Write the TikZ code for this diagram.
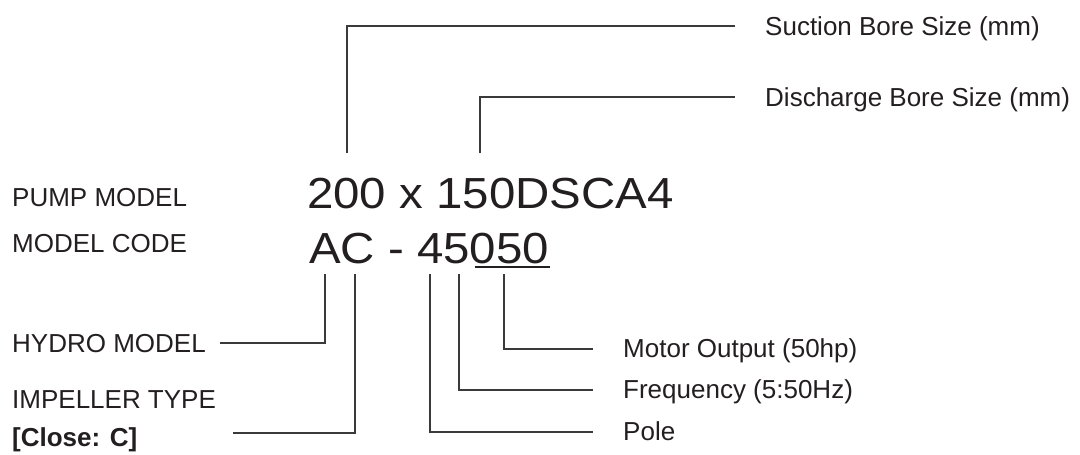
\documentclass[tikz,border=0pt]{standalone}
\usepackage{fontspec}
\setmainfont{Liberation Sans}
\newfontfamily\widefont[FakeStretch=1.09]{Liberation Sans}
\definecolor{ink}{HTML}{231F20}
\definecolor{leadc}{HTML}{3A3A3A}
\begin{document}
\begin{tikzpicture}[x=1pt,y=-1pt,
  lbl/.style={inner sep=0pt,anchor=base west,font=\fontsize{26}{30}\selectfont,text=ink},
  big/.style={inner sep=0pt,anchor=base west,font=\widefont\fontsize{43.5}{50}\selectfont,text=ink},
  lead/.style={draw=leadc,line width=1.2pt}]
\useasboundingbox[fill=white] (0,0) rectangle (1080,455);
% main codes
\node[big] (pm) at (307,208) {200 x 150DSCA4};
\node[big] (mc) at (309,263) {AC - 45050};
\coordinate (ulA) at (475,267);
\coordinate (ulB) at (550,267);
\draw[draw=ink,line width=2.2pt] (ulA) -- (ulB);
% left labels
\node[lbl] (pml) at (12,206) {PUMP MODEL};
\node[lbl] (mcl) at (12,252) {MODEL CODE};
\node[lbl] (hyd) at (12,352) {HYDRO MODEL};
\node[lbl] (imp) at (12,408) {IMPELLER TYPE};
\node[lbl,font=\fontsize{26}{30}\selectfont\bfseries] (clo) at (12,446) {[Close: C]};
% right labels
\node[lbl] (suc) at (765,35) {Suction Bore Size (mm)};
\node[lbl] (dis) at (765,106) {Discharge Bore Size (mm)};
\node[lbl] (mot) at (623,357) {Motor Output (50hp)};
\node[lbl] (fre) at (623,398) {Frequency (5:50Hz)};
\node[lbl] (pol) at (623,440) {Pole};
% connector points
\coordinate (sucA) at (347,153);
\coordinate (sucE) at (735,26);
\coordinate (disA) at (480,153);
\coordinate (disE) at (735,97);
\coordinate (hydA) at (325,274);
\coordinate (hydE) at (220,343);
\coordinate (impA) at (355,274);
\coordinate (impE) at (233,433);
\coordinate (polA) at (430,274);
\coordinate (polE) at (593,432);
\coordinate (freA) at (459,274);
\coordinate (freE) at (593,390);
\coordinate (motA) at (504,274);
\coordinate (motE) at (593,349);
\draw[lead] (sucA) |- (sucE);
\draw[lead] (disA) |- (disE);
\draw[lead] (hydA) |- (hydE);
\draw[lead] (impA) |- (impE);
\draw[lead] (polA) |- (polE);
\draw[lead] (freA) |- (freE);
\draw[lead] (motA) |- (motE);
\end{tikzpicture}
\end{document}
